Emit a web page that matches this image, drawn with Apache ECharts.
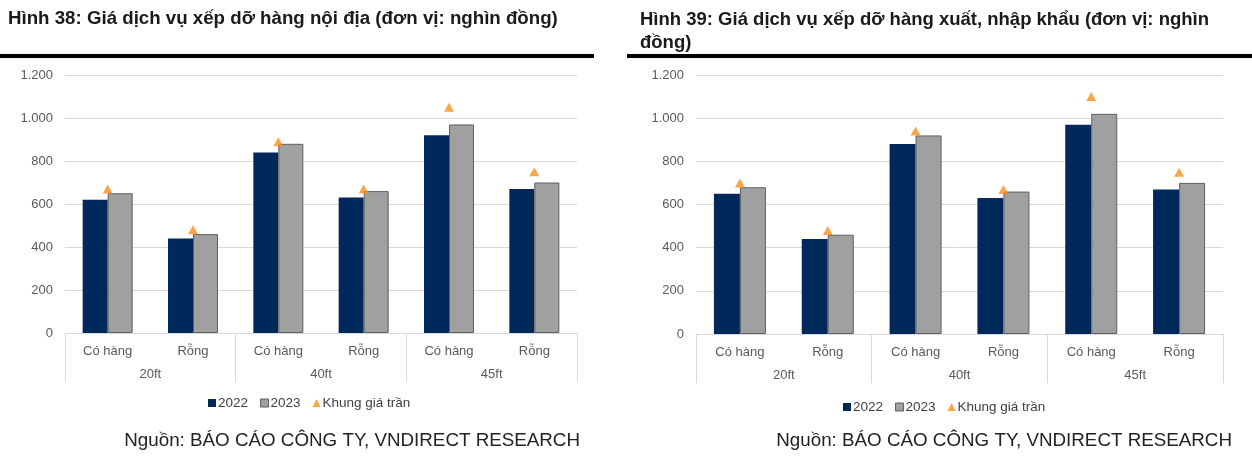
<!DOCTYPE html>
<html>
<head>
<meta charset="utf-8">
<script src="https://cdn.jsdelivr.net/npm/echarts@6/dist/echarts.min.js"></script>
<style>
html,body{margin:0;padding:0;background:#fff;}
#c{width:1252px;height:456px;}
</style>
</head>
<body>
<div id="c"></div>
<script>
const subCats = ['Có hàng','Rỗng','Có hàng','Rỗng','Có hàng','Rỗng'];
const groups = ['20ft','40ft','45ft'];
const dom2022 = [620,440,840,630,920,670];
const dom2023 = [650,460,880,660,970,700];
const domCeil = [670,480,890,670,1050,750];
const exp2022 = [650,440,880,630,970,670];
const exp2023 = [680,460,920,660,1020,700];
const expCeil = [700,480,940,670,1100,750];
const yMin = 0, yMax = 1200, yStep = 200;
const seriesNames = ['2022','2023','Khung giá trần'];
const titleLeft = 'Hình 38: Giá dịch vụ xếp dỡ hàng nội địa (đơn vị: nghìn đồng)';
const titleRight = 'Hình 39: Giá dịch vụ xếp dỡ hàng xuất, nhập khẩu (đơn vị: nghìn\nđồng)';
const sourceText = 'Nguồn: BÁO CÁO CÔNG TY, VNDIRECT RESEARCH';

const FONT = "'Liberation Sans', Arial, sans-serif";
const C2022 = '#00285A', C2023 = '#A0A0A0', CTRI = '#F7901A';
const GRID_COL = '#D9D9D9', LABEL_COL = '#595959';

function fmt(v){ return v >= 1000 ? Math.floor(v/1000) + '.' + String(v%1000).padStart(3,'0') : String(v); }

const grids = [
  {left:65, right:675, top:75, bottom:123},
  {left:696, right:29, top:75, bottom:122}
];
const xAxes = [], yAxes = [], series = [];
grids.forEach((g,i)=>{
  xAxes.push({
    type:'category', gridIndex:i, data:subCats, position:'bottom',
    axisLine:{show:true, lineStyle:{color:GRID_COL, width:1}},
    axisTick:{show:false},
    axisLabel:{color:LABEL_COL, fontSize:13, fontFamily:FONT, margin:12, interval:0}
  });
  xAxes.push({
    type:'category', gridIndex:i, data:groups, position:'bottom',
    axisLine:{show:false},
    axisTick:{show:true, length:49, interval:0, lineStyle:{color:GRID_COL, width:1}},
    axisLabel:{color:LABEL_COL, fontSize:13, fontFamily:FONT, margin:35, interval:0}
  });
  yAxes.push({
    type:'value', gridIndex:i, min:yMin, max:yMax, interval:yStep,
    axisLine:{show:false}, axisTick:{show:false},
    splitLine:{lineStyle:{color:GRID_COL, width:1}},
    axisLabel:{color:LABEL_COL, fontSize:13, fontFamily:FONT, margin:12, formatter:fmt}
  });
});
const sets = [[dom2022, dom2023, domCeil, 25],[exp2022, exp2023, expCeil, 26]];
sets.forEach((s,i)=>{
  series.push({name:seriesNames[0], type:'bar', xAxisIndex:i*2, yAxisIndex:i, data:s[0], barWidth:s[3], barGap:'0%',
    itemStyle:{color:C2022}});
  series.push({name:seriesNames[1], type:'bar', xAxisIndex:i*2, yAxisIndex:i, data:s[1], barWidth:s[3], barGap:'0%',
    itemStyle:{color:C2023, borderColor:'#5F5F5F', borderWidth:1}});
  series.push({name:seriesNames[2], type:'scatter', xAxisIndex:i*2, yAxisIndex:i, data:s[2], symbol:'triangle', symbolSize:[10,9],
    itemStyle:{color:CTRI}, z:5});
});
function legend(left, top){
  return {
    left:left, top:top, itemWidth:8, itemHeight:8, itemGap:12, selectedMode:false,
    textStyle:{color:'#404040', fontSize:13.5, fontFamily:FONT, padding:[0,0,0,-3]},
    data:[{name:seriesNames[0], icon:'rect'},{name:seriesNames[1], icon:'rect', itemStyle:{borderColor:'#5F5F5F', borderWidth:1}},{name:seriesNames[2], icon:'triangle'}]
  };
}
const chart = echarts.init(document.getElementById('c'), null, {renderer:'canvas'});
chart.setOption({
  backgroundColor:'#fff',
  animation:false,
  grid:grids, xAxis:xAxes, yAxis:yAxes, series:series,
  legend:[legend(203, 391), legend(838, 395)],
  graphic:[
    {type:'text', left:8, top:9, style:{text:titleLeft, fontSize:18.7, fontWeight:'bold', fontFamily:FONT, fill:'#1A1A1A'}},
    {type:'text', left:640, top:8, style:{text:titleRight, fontSize:18.5, fontWeight:'bold', fontFamily:FONT, fill:'#1A1A1A', lineHeight:23}},
    {type:'rect', shape:{x:0, y:54, width:594, height:4}, style:{fill:'#000'}},
    {type:'rect', shape:{x:627, y:54, width:625, height:4}, style:{fill:'#000'}},
    {type:'text', x:580, y:441, style:{text:sourceText, fontSize:18.8, fontFamily:FONT, fill:'#222', align:'right', verticalAlign:'middle'}},
    {type:'text', x:1232, y:441, style:{text:sourceText, fontSize:18.8, fontFamily:FONT, fill:'#222', align:'right', verticalAlign:'middle'}}
  ]
});
</script>
</body>
</html>
